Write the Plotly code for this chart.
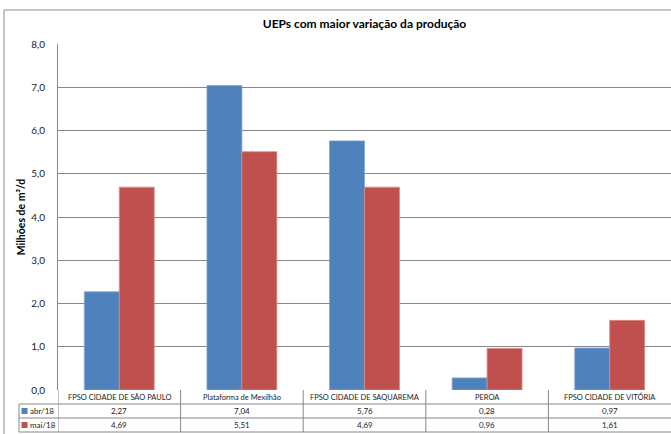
import plotly.graph_objects as go

categories = ["FPSO CIDADE DE SÃO PAULO", "Plataforma de Mexilhão", "FPSO CIDADE DE SAQUAREMA", "PEROA", "FPSO CIDADE DE VITÓRIA"]
series_names = ["abr/18", "mai/18"]
abr_values = [2.27, 7.04, 5.76, 0.28, 0.97]
mai_values = [4.69, 5.51, 4.69, 0.96, 1.61]
y_ticks = [0, 1, 2, 3, 4, 5, 6, 7, 8]

colors = ["#4F81BD", "#C0504D"]
edge = ["#7FA3D3", "#D98A88"]
FONT = "Lato"

W, H = 671, 434
L, R, T, B = 58, 0, 44, 44
ph = H - T - B

def py(pix):
    return (H - B - pix) / ph

def px(pix):
    return (pix - L) / (W - L - R)

fig = go.Figure()
for name, vals, c, e in zip(series_names, [abr_values, mai_values], colors, edge):
    fig.add_trace(go.Bar(x=list(range(len(categories))), y=vals, name=name,
                         marker=dict(color=c, line=dict(color=e, width=0.8)),
                         showlegend=False, hoverinfo="skip"))

grid = "#878787"
shapes = []
for yp in [404, 418, 432]:
    shapes.append(dict(type="line", xref="paper", yref="paper", x0=px(19), x1=1,
                       y0=py(yp), y1=py(yp), line=dict(color=grid, width=1)))
n = len(categories)
for k in range(n):
    shapes.append(dict(type="line", xref="x", yref="paper", x0=k - 0.5, x1=k - 0.5,
                       y0=py(390), y1=py(432), line=dict(color=grid, width=1)))
shapes.append(dict(type="line", xref="paper", yref="paper", x0=px(19), x1=px(19),
                   y0=py(404), y1=py(432), line=dict(color=grid, width=1)))
# outer chart border (top and left edges visible)
shapes.append(dict(type="line", xref="paper", yref="paper", x0=px(4), x1=px(W + 5),
                   y0=py(10), y1=py(10), line=dict(color="#8C8C8C", width=1)))
shapes.append(dict(type="line", xref="paper", yref="paper", x0=px(4), x1=px(4),
                   y0=py(10), y1=py(H + 5), line=dict(color="#8C8C8C", width=1)))

annotations = []
row_y = [411, 425]
for r, (name, vals, c) in enumerate(zip(series_names, [abr_values, mai_values], colors)):
    shapes.append(dict(type="rect", xref="paper", yref="paper", x0=px(21.5), x1=px(27.5),
                       y0=py(row_y[r] + 3), y1=py(row_y[r] - 3),
                       fillcolor=c, line=dict(width=0)))
    annotations.append(dict(x=px(28), y=py(row_y[r]), xref="paper", yref="paper",
                            text=name, showarrow=False, xanchor="left", yanchor="middle",
                            font=dict(family=FONT, size=8, color="#222")))
    for i, v in enumerate(vals):
        annotations.append(dict(x=i, y=py(row_y[r]), xref="x", yref="paper",
                                text=f"{v:.2f}".replace(".", ","), showarrow=False,
                                xanchor="center", yanchor="middle",
                                font=dict(family=FONT, size=8, color="#222")))
for i, cat in enumerate(categories):
    annotations.append(dict(x=i, y=py(397), xref="x", yref="paper", text=cat,
                            showarrow=False, xanchor="center", yanchor="middle",
                            font=dict(family=FONT, size=7.5, color="#222")))

fig.update_layout(
    width=W, height=H,
    margin=dict(l=L, r=R, t=T, b=B, autoexpand=False),
    paper_bgcolor="white", plot_bgcolor="white",
    separators=", ",
    bargap=0.43, bargroupgap=0,
    hovermode=False,
    title=dict(text="<b>UEPs com maior variação da produção</b>", x=0.5, xref="paper",
               y=1 - 24 / H, yanchor="middle",
               font=dict(family=FONT, size=12, color="#000")),
    xaxis=dict(range=[-0.5, n - 0.5], showticklabels=False, showgrid=False,
               zeroline=False, showline=False, ticks=""),
    yaxis=dict(range=[0, 8], tickvals=y_ticks, tickformat=".1f",
               showgrid=True, gridcolor=grid, gridwidth=1,
               showline=True, linecolor=grid, linewidth=1, zeroline=False,
               ticks="", ticklabelstandoff=10,
               tickfont=dict(family=FONT, size=10, color="#222"),
               title=dict(text="<b>Milhões de m³/d</b>", standoff=3,
                          font=dict(family=FONT, size=10.5, color="#000"))),
    shapes=shapes, annotations=annotations,
)

fig.write_html("out.html", config={"displayModeBar": False, "staticPlot": True},
               post_script="document.body.style.margin='0';")
